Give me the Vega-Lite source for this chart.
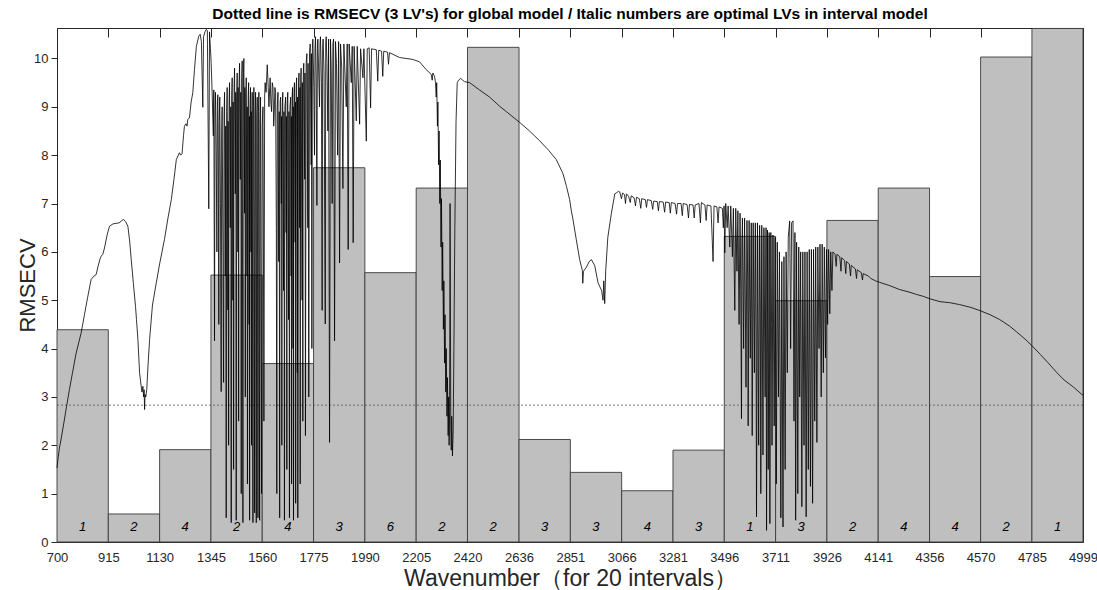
{
  "$schema": "https://vega.github.io/schema/vega-lite/v6.json",
  "width": 1026,
  "height": 514,
  "autosize": {"type": "none"},
  "padding": {"left": 57, "top": 28, "right": 14, "bottom": 48},
  "background": "white",
  "title": {"text": "Dotted line is RMSECV (3 LV's) for global model / Italic numbers are optimal LVs in interval model", "font": "Liberation Sans", "fontSize": 15.5, "fontWeight": "bold", "color": "#000000", "anchor": "middle", "offset": 5},
  "config": {
    "view": {"stroke": "#262626", "strokeWidth": 1},
    "axis": {"labelFont": "Liberation Sans", "labelFontSize": 13, "labelColor": "#262626", "titleFont": "Liberation Sans", "titleFontWeight": "normal", "titleColor": "#262626", "grid": false, "domain": false, "tickColor": "#262626"}
  },
  "datasets": {
    "intervals": [
      {"start": 700, "end": 915, "rmsecv": 4.39, "lv": 1},
      {"start": 915, "end": 1130, "rmsecv": 0.58, "lv": 2},
      {"start": 1130, "end": 1345, "rmsecv": 1.91, "lv": 4},
      {"start": 1345, "end": 1560, "rmsecv": 5.52, "lv": 2},
      {"start": 1560, "end": 1775, "rmsecv": 3.69, "lv": 4},
      {"start": 1775, "end": 1990, "rmsecv": 7.74, "lv": 3},
      {"start": 1990, "end": 2205, "rmsecv": 5.57, "lv": 6},
      {"start": 2205, "end": 2420, "rmsecv": 7.32, "lv": 2},
      {"start": 2420, "end": 2636, "rmsecv": 10.23, "lv": 2},
      {"start": 2636, "end": 2851, "rmsecv": 2.12, "lv": 3},
      {"start": 2851, "end": 3066, "rmsecv": 1.44, "lv": 3},
      {"start": 3066, "end": 3281, "rmsecv": 1.06, "lv": 4},
      {"start": 3281, "end": 3496, "rmsecv": 1.9, "lv": 3},
      {"start": 3496, "end": 3711, "rmsecv": 6.32, "lv": 1},
      {"start": 3711, "end": 3926, "rmsecv": 4.99, "lv": 3},
      {"start": 3926, "end": 4141, "rmsecv": 6.65, "lv": 2},
      {"start": 4141, "end": 4356, "rmsecv": 7.32, "lv": 4},
      {"start": 4356, "end": 4570, "rmsecv": 5.49, "lv": 4},
      {"start": 4570, "end": 4785, "rmsecv": 10.03, "lv": 2},
      {"start": 4785, "end": 4999, "rmsecv": 10.62, "lv": 1}
    ],
    "globalmodel": [{"rmsecv": 2.83}],
    "spectrum": [
      {"w":700,"v":1.53},{"w":705,"v":1.75},{"w":710,"v":1.94},{"w":718,"v":2.15},{"w":730,"v":2.5},{"w":740,"v":2.8},{"w":752,"v":3.15},{"w":765,"v":3.5},{"w":780,"v":3.9},{"w":801,"v":4.32},{"w":815,"v":4.7},{"w":828,"v":5.05},{"w":843,"v":5.43},{"w":855,"v":5.5},{"w":864,"v":5.53},{"w":872,"v":5.7},{"w":880,"v":5.85},{"w":885,"v":5.91},{"w":892,"v":5.95},{"w":899,"v":6.08},{"w":910,"v":6.35},{"w":920,"v":6.53},{"w":935,"v":6.58},{"w":948,"v":6.59},{"w":960,"v":6.6},{"w":970,"v":6.64},{"w":979,"v":6.67},{"w":988,"v":6.62},{"w":997,"v":6.53},{"w":1005,"v":6.2},{"w":1011,"v":5.84},{"w":1020,"v":5.35},{"w":1029,"v":4.87},{"w":1033,"v":4.6},{"w":1039,"v":4.19},{"w":1046,"v":3.5},{"w":1052,"v":3.25},{"w":1056,"v":3.1},{"w":1060,"v":3.22},{"w":1063,"v":3.0},{"w":1065,"v":3.15},{"w":1067,"v":2.74},{"w":1069,"v":3.05},{"w":1072,"v":3.0},{"w":1076,"v":3.15},{"w":1082,"v":3.7},{"w":1088,"v":4.19},{"w":1100,"v":4.9},{"w":1116,"v":5.36},{"w":1130,"v":5.75},{"w":1150,"v":6.25},{"w":1165,"v":6.7},{"w":1179,"v":7.08},{"w":1190,"v":7.5},{"w":1200,"v":7.91},{"w":1213,"v":8.05},{"w":1218,"v":8.0},{"w":1224,"v":8.03},{"w":1230,"v":8.4},{"w":1234,"v":8.6},{"w":1240,"v":8.65},{"w":1245,"v":8.6},{"w":1248,"v":8.74},{"w":1255,"v":8.77},{"w":1262,"v":9.1},{"w":1269,"v":9.29},{"w":1276,"v":9.77},{"w":1284,"v":10.25},{"w":1294,"v":10.46},{"w":1300,"v":10.5},{"w":1305,"v":10.35},{"w":1311,"v":8.99},{"w":1314,"v":10.45},{"w":1320,"v":10.55},{"w":1325,"v":10.6},{"w":1330,"v":10.58},{"w":1336,"v":6.89},{"w":1339,"v":10.55},{"w":1343,"v":10.2},{"w":1346,"v":9.9},{"w":1350,"v":9.3},
      {"w":1355,"v":8.4},{"w":1357,"v":9.35},{"w":1360,"v":4.16},{"w":1362,"v":8.9},{"w":1364,"v":9.3},{"w":1367,"v":8.1},{"w":1370,"v":6.0},{"w":1372,"v":9.1},{"w":1374,"v":9.25},{"w":1376,"v":7.8},{"w":1378,"v":4.5},{"w":1380,"v":8.7},{"w":1382,"v":9.2},{"w":1385,"v":7.0},{"w":1388,"v":3.11},{"w":1390,"v":8.5},{"w":1392,"v":9.0},{"w":1395,"v":6.2},{"w":1398,"v":3.3},{"w":1400,"v":8.8},{"w":1402,"v":9.3},{"w":1405,"v":5.5},{"w":1407,"v":8.6},{"w":1409,"v":0.5},{"w":1411,"v":8.9},{"w":1413,"v":9.4},{"w":1416,"v":4.8},{"w":1417,"v":8.7},{"w":1419,"v":2.0},{"w":1421,"v":9.1},{"w":1423,"v":9.5},{"w":1426,"v":6.5},{"w":1428,"v":9.0},{"w":1430,"v":0.4},{"w":1432,"v":9.2},{"w":1434,"v":9.6},{"w":1437,"v":5.0},{"w":1438,"v":9.1},{"w":1440,"v":1.5},{"w":1442,"v":9.4},{"w":1444,"v":9.8},{"w":1447,"v":7.2},{"w":1449,"v":9.3},{"w":1451,"v":0.45},{"w":1453,"v":9.2},{"w":1455,"v":9.7},{"w":1458,"v":6.0},{"w":1459,"v":9.4},{"w":1461,"v":2.5},{"w":1463,"v":9.5},{"w":1465,"v":9.9},{"w":1468,"v":7.5},{"w":1470,"v":9.3},{"w":1472,"v":1.0},{"w":1474,"v":9.6},{"w":1476,"v":9.95},{"w":1479,"v":0.4},{"w":1481,"v":9.7},{"w":1483,"v":10.0},{"w":1486,"v":6.8},{"w":1487,"v":9.4},{"w":1489,"v":3.0},{"w":1491,"v":9.2},{"w":1493,"v":9.6},{"w":1496,"v":5.5},{"w":1497,"v":9.0},{"w":1498,"v":1.2},{"w":1501,"v":9.2},{"w":1503,"v":9.5},{"w":1505,"v":4.5},{"w":1506,"v":8.8},{"w":1507,"v":0.45},{"w":1509,"v":9.0},{"w":1511,"v":9.4},{"w":1513,"v":6.0},{"w":1514,"v":8.9},{"w":1515,"v":2.0},{"w":1517,"v":9.0},{"w":1518,"v":9.3},{"w":1520,"v":3.5},{"w":1521,"v":0.4},{"w":1523,"v":9.0},{"w":1525,"v":9.4},{"w":1527,"v":5.0},{"w":1528,"v":0.6},{"w":1530,"v":8.9},{"w":1532,"v":9.3},{"w":1534,"v":2.5},{"w":1535,"v":0.4},{"w":1537,"v":8.8},{"w":1539,"v":9.2},{"w":1541,"v":4.0},{"w":1542,"v":0.5},{"w":1544,"v":8.9},{"w":1546,"v":9.3},{"w":1548,"v":3.0},{"w":1549,"v":0.45},{"w":1551,"v":8.7},{"w":1553,"v":9.2},{"w":1555,"v":5.0},{"w":1557,"v":1.0},{"w":1560,"v":8.6},{"w":1563,"v":9.0},{"w":1565,"v":6.0},{"w":1567,"v":2.5},{"w":1570,"v":9.2},{"w":1572,"v":9.5},{"w":1576,"v":9.3},{"w":1581,"v":9.87},{"w":1585,"v":9.4},{"w":1588,"v":9.0},{"w":1593,"v":9.6},{"w":1596,"v":9.1},{"w":1599,"v":8.9},{"w":1602,"v":9.5},{"w":1605,"v":9.4},{"w":1608,"v":8.6},{"w":1610,"v":8.8},{"w":1613,"v":9.4},{"w":1616,"v":9.3},{"w":1619,"v":6.5},{"w":1621,"v":1.0},{"w":1623,"v":9.0},{"w":1626,"v":9.3},{"w":1629,"v":5.8},{"w":1631,"v":8.9},{"w":1633,"v":0.5},{"w":1635,"v":9.1},{"w":1637,"v":9.2},{"w":1640,"v":7.0},{"w":1641,"v":8.8},{"w":1642,"v":2.0},{"w":1644,"v":9.0},{"w":1646,"v":9.3},{"w":1649,"v":5.2},{"w":1651,"v":8.9},{"w":1653,"v":0.45},{"w":1655,"v":9.0},{"w":1658,"v":9.2},{"w":1660,"v":6.4},{"w":1661,"v":8.8},{"w":1663,"v":1.5},{"w":1665,"v":9.1},{"w":1667,"v":9.3},{"w":1670,"v":4.6},{"w":1672,"v":8.9},{"w":1674,"v":0.5},{"w":1676,"v":9.0},{"w":1679,"v":9.2},{"w":1681,"v":5.5},{"w":1682,"v":8.8},{"w":1683,"v":1.2},{"w":1685,"v":9.2},{"w":1687,"v":9.4},{"w":1689,"v":4.0},{"w":1690,"v":9.0},{"w":1691,"v":0.45},{"w":1693,"v":9.3},{"w":1695,"v":9.5},{"w":1698,"v":6.2},{"w":1699,"v":9.1},{"w":1700,"v":0.8},{"w":1702,"v":9.4},{"w":1704,"v":9.6},{"w":1707,"v":3.5},{"w":1708,"v":9.2},{"w":1709,"v":0.5},{"w":1712,"v":9.5},{"w":1714,"v":9.7},{"w":1717,"v":6.5},{"w":1718,"v":9.4},{"w":1719,"v":1.2},{"w":1721,"v":9.6},{"w":1723,"v":9.8},{"w":1727,"v":5.0},{"w":1728,"v":9.5},{"w":1730,"v":2.5},{"w":1732,"v":9.7},{"w":1734,"v":9.9},{"w":1738,"v":7.5},{"w":1739,"v":9.7},{"w":1741,"v":2.2},{"w":1744,"v":9.9},{"w":1747,"v":10.1},{"w":1751,"v":6.5},{"w":1752,"v":9.9},{"w":1755,"v":3.0},{"w":1758,"v":10.1},{"w":1761,"v":10.3},{"w":1765,"v":7.8},{"w":1766,"v":10.1},{"w":1768,"v":4.0},{"w":1770,"v":10.2},{"w":1772,"v":10.4},{"w":1776,"v":9.4},{"w":1779,"v":8.0},{"w":1781,"v":10.2},{"w":1783,"v":10.45},{"w":1786,"v":9.6},{"w":1789,"v":6.96},{"w":1791,"v":10.2},{"w":1793,"v":10.4},{"w":1796,"v":9.8},{"w":1800,"v":9.0},{"w":1802,"v":10.3},{"w":1804,"v":10.45},{"w":1808,"v":9.5},{"w":1811,"v":4.79},{"w":1813,"v":10.2},{"w":1815,"v":10.4},{"w":1819,"v":9.7},{"w":1824,"v":4.51},{"w":1826,"v":10.3},{"w":1828,"v":10.45},{"w":1831,"v":9.9},{"w":1835,"v":8.5},{"w":1838,"v":10.4},{"w":1842,"v":2.06},{"w":1846,"v":10.4},{"w":1849,"v":9.8},{"w":1853,"v":7.0},{"w":1856,"v":10.3},{"w":1859,"v":10.4},{"w":1863,"v":4.16},{"w":1867,"v":10.35},{"w":1871,"v":9.9},{"w":1876,"v":8.0},{"w":1880,"v":10.35},{"w":1884,"v":5.77},{"w":1888,"v":10.3},{"w":1893,"v":9.8},{"w":1898,"v":7.31},{"w":1902,"v":10.3},{"w":1912,"v":9.0},{"w":1916,"v":10.3},{"w":1920,"v":6.05},{"w":1924,"v":10.3},{"w":1933,"v":9.5},{"w":1937,"v":10.25},{"w":1941,"v":6.19},{"w":1945,"v":10.25},{"w":1954,"v":8.71},{"w":1958,"v":10.25},{"w":1968,"v":8.64},{"w":1972,"v":10.2},{"w":1982,"v":9.6},{"w":1986,"v":10.2},{"w":1996,"v":8.29},{"w":2000,"v":10.2},
      {"w":2008,"v":10.22},{"w":2014,"v":8.98},{"w":2018,"v":10.2},{"w":2038,"v":10.18},{"w":2044,"v":9.53},{"w":2048,"v":10.17},{"w":2060,"v":10.15},{"w":2065,"v":9.63},{"w":2069,"v":10.15},{"w":2085,"v":10.13},{"w":2089,"v":9.88},{"w":2093,"v":10.12},{"w":2135,"v":10.02},{"w":2191,"v":9.98},{"w":2219,"v":9.93},{"w":2247,"v":9.77},{"w":2268,"v":9.67},{"w":2272,"v":9.55},{"w":2275,"v":9.7},{"w":2282,"v":9.63},{"w":2286,"v":9.5},
      {"w":2289,"v":9.2},{"w":2291,"v":9.5},{"w":2294,"v":8.6},{"w":2296,"v":9.1},{"w":2299,"v":7.8},{"w":2301,"v":8.5},{"w":2304,"v":7.0},{"w":2306,"v":7.9},{"w":2309,"v":6.1},{"w":2311,"v":7.1},{"w":2314,"v":5.2},{"w":2316,"v":6.2},{"w":2319,"v":4.4},{"w":2321,"v":5.4},{"w":2324,"v":3.7},{"w":2326,"v":4.7},{"w":2329,"v":3.1},{"w":2331,"v":4.0},{"w":2334,"v":2.6},{"w":2336,"v":3.4},{"w":2339,"v":2.2},{"w":2341,"v":3.0},{"w":2343,"v":2.0},{"w":2345,"v":2.7},{"w":2347,"v":7.0},{"w":2350,"v":2.4},{"w":2352,"v":1.9},{"w":2354,"v":2.6},{"w":2357,"v":1.78},{"w":2360,"v":2.3},{"w":2363,"v":4.0},{"w":2367,"v":6.5},{"w":2372,"v":8.7},{"w":2377,"v":9.5},{"w":2383,"v":9.55},{"w":2391,"v":9.59},{"w":2400,"v":9.55},{"w":2408,"v":9.52},{"w":2429,"v":9.5},{"w":2470,"v":9.35},{"w":2513,"v":9.2},{"w":2555,"v":9.01},{"w":2583,"v":8.9},{"w":2638,"v":8.68},{"w":2680,"v":8.5},{"w":2722,"v":8.3},{"w":2760,"v":8.1},{"w":2792,"v":7.91},{"w":2820,"v":7.62},{"w":2835,"v":7.35},{"w":2848,"v":7.08},{"w":2855,"v":6.85},{"w":2862,"v":6.67},{"w":2876,"v":6.25},{"w":2890,"v":5.84},{"w":2901,"v":5.62},{"w":2903,"v":5.35},{"w":2906,"v":5.6},{"w":2918,"v":5.68},{"w":2930,"v":5.8},{"w":2939,"v":5.84},{"w":2953,"v":5.72},{"w":2967,"v":5.36},{"w":2982,"v":5.2},{"w":2988,"v":5.0},{"w":2991,"v":5.4},{"w":2995,"v":4.93},{"w":2999,"v":5.6},{"w":3008,"v":6.3},{"w":3023,"v":6.8},{"w":3037,"v":7.2},{"w":3044,"v":7.22},{"w":3052,"v":7.25},{"w":3058,"v":7.24},
      {"w":3065,"v":7.1},{"w":3070,"v":7.22},{"w":3078,"v":7.18},{"w":3082,"v":7.0},{"w":3086,"v":7.2},{"w":3095,"v":7.15},{"w":3102,"v":7.02},{"w":3106,"v":7.16},{"w":3118,"v":7.12},{"w":3124,"v":6.95},{"w":3128,"v":7.13},{"w":3140,"v":7.1},{"w":3146,"v":6.9},{"w":3150,"v":7.1},{"w":3165,"v":7.08},{"w":3170,"v":6.92},{"w":3174,"v":7.08},{"w":3190,"v":7.06},{"w":3196,"v":6.88},{"w":3200,"v":7.05},{"w":3215,"v":7.04},{"w":3220,"v":6.85},{"w":3224,"v":7.04},{"w":3240,"v":7.03},{"w":3246,"v":6.82},{"w":3250,"v":7.03},{"w":3265,"v":7.02},{"w":3270,"v":6.8},{"w":3274,"v":7.02},{"w":3290,"v":7.0},{"w":3296,"v":6.78},{"w":3300,"v":7.0},{"w":3315,"v":7.0},{"w":3320,"v":6.75},{"w":3324,"v":7.0},{"w":3340,"v":6.98},{"w":3346,"v":6.7},{"w":3350,"v":6.98},{"w":3365,"v":6.97},{"w":3370,"v":6.7},{"w":3374,"v":6.97},{"w":3390,"v":7.0},{"w":3396,"v":6.6},{"w":3400,"v":7.02},{"w":3415,"v":6.97},{"w":3420,"v":6.65},{"w":3424,"v":6.97},{"w":3440,"v":6.95},{"w":3449,"v":5.8},{"w":3453,"v":6.95},{"w":3465,"v":6.93},{"w":3470,"v":6.6},{"w":3474,"v":6.93},{"w":3488,"v":6.9},{"w":3492,"v":6.5},{"w":3495,"v":6.95},
      {"w":3498,"v":5.98},{"w":3502,"v":7.0},{"w":3508,"v":6.5},{"w":3512,"v":6.95},{"w":3519,"v":6.1},{"w":3523,"v":6.95},{"w":3530,"v":5.9},{"w":3534,"v":6.9},{"w":3540,"v":4.79},{"w":3544,"v":6.9},{"w":3549,"v":5.6},{"w":3553,"v":6.85},{"w":3558,"v":4.5},{"w":3562,"v":6.8},{"w":3565,"v":5.2},{"w":3568,"v":2.55},{"w":3570,"v":6.2},{"w":3572,"v":6.7},{"w":3577,"v":4.0},{"w":3581,"v":6.7},{"w":3584,"v":5.0},{"w":3587,"v":3.2},{"w":3591,"v":6.65},{"w":3594,"v":5.4},{"w":3596,"v":2.4},{"w":3600,"v":6.65},{"w":3605,"v":3.8},{"w":3609,"v":6.6},{"w":3611,"v":4.6},{"w":3613,"v":2.2},{"w":3617,"v":6.6},{"w":3622,"v":3.5},{"w":3626,"v":6.6},{"w":3629,"v":4.4},{"w":3631,"v":0.52},{"w":3635,"v":6.6},{"w":3640,"v":2.0},{"w":3644,"v":6.55},{"w":3647,"v":4.8},{"w":3649,"v":1.0},{"w":3653,"v":6.55},{"w":3658,"v":1.8},{"w":3662,"v":6.5},{"w":3667,"v":3.0},{"w":3671,"v":6.5},{"w":3673,"v":0.24},{"w":3677,"v":6.45},{"w":3680,"v":1.5},{"w":3684,"v":6.4},{"w":3687,"v":0.38},{"w":3691,"v":6.4},{"w":3694,"v":4.5},{"w":3696,"v":2.0},{"w":3700,"v":6.35},{"w":3705,"v":2.4},{"w":3709,"v":6.3},{"w":3714,"v":1.2},{"w":3718,"v":6.2},{"w":3723,"v":3.0},{"w":3727,"v":6.0},{"w":3733,"v":0.5},{"w":3737,"v":5.8},{"w":3742,"v":0.31},{"w":3746,"v":5.9},{"w":3751,"v":1.5},{"w":3755,"v":6.0},{"w":3760,"v":3.5},{"w":3764,"v":6.3},{"w":3770,"v":6.64},{"w":3774,"v":4.0},{"w":3778,"v":6.6},{"w":3784,"v":6.64},{"w":3788,"v":2.5},{"w":3792,"v":6.4},{"w":3795,"v":0.45},{"w":3799,"v":6.2},{"w":3804,"v":1.0},{"w":3808,"v":6.1},{"w":3812,"v":3.0},{"w":3816,"v":6.0},{"w":3821,"v":0.73},{"w":3825,"v":6.0},{"w":3830,"v":2.0},{"w":3834,"v":6.0},{"w":3839,"v":0.52},{"w":3843,"v":6.0},{"w":3848,"v":1.5},{"w":3852,"v":6.05},{"w":3857,"v":1.15},{"w":3861,"v":6.05},{"w":3866,"v":0.8},{"w":3870,"v":6.05},{"w":3875,"v":2.5},{"w":3879,"v":6.1},{"w":3884,"v":2.06},{"w":3888,"v":6.1},{"w":3893,"v":4.0},{"w":3897,"v":6.16},{"w":3902,"v":3.0},{"w":3906,"v":6.16},{"w":3911,"v":3.5},{"w":3915,"v":6.1},{"w":3920,"v":3.81},{"w":3924,"v":6.05},{"w":3929,"v":4.5},{"w":3933,"v":6.05},{"w":3938,"v":4.72},{"w":3942,"v":6.0},{"w":3947,"v":5.2},{"w":3951,"v":6.0},
      {"w":3960,"v":5.95},{"w":3965,"v":5.7},{"w":3968,"v":5.95},{"w":3980,"v":5.9},{"w":3985,"v":5.6},{"w":3988,"v":5.88},{"w":4000,"v":5.82},{"w":4005,"v":5.55},{"w":4008,"v":5.8},{"w":4020,"v":5.75},{"w":4025,"v":5.5},{"w":4028,"v":5.72},{"w":4045,"v":5.65},{"w":4050,"v":5.45},{"w":4053,"v":5.63},{"w":4070,"v":5.57},{"w":4075,"v":5.42},{"w":4078,"v":5.55},{"w":4100,"v":5.5},{"w":4110,"v":5.45},{"w":4130,"v":5.4},{"w":4147,"v":5.37},{"w":4190,"v":5.3},{"w":4231,"v":5.22},{"w":4270,"v":5.17},{"w":4301,"v":5.12},{"w":4330,"v":5.08},{"w":4357,"v":5.03},{"w":4400,"v":4.97},{"w":4440,"v":4.95},{"w":4482,"v":4.91},{"w":4530,"v":4.85},{"w":4570,"v":4.78},{"w":4610,"v":4.7},{"w":4650,"v":4.6},{"w":4690,"v":4.47},{"w":4720,"v":4.35},{"w":4760,"v":4.18},{"w":4785,"v":4.06},{"w":4820,"v":3.88},{"w":4850,"v":3.72},{"w":4890,"v":3.5},{"w":4920,"v":3.35},{"w":4960,"v":3.2},{"w":4999,"v":3.03}
    ]
  },
  "layer": [
    {
      "data": {"name": "intervals"},
      "mark": {"type": "rect", "fill": "#bfbfbf", "stroke": "#3a3a3a", "strokeWidth": 0.9},
      "encoding": {
        "x": {"field": "start", "type": "quantitative", "scale": {"domain": [700, 4999], "nice": false, "zero": false},
              "axis": {"orient": "bottom", "values": [700, 915, 1130, 1345, 1560, 1775, 1990, 2205, 2420, 2636, 2851, 3066, 3281, 3496, 3711, 3926, 4141, 4356, 4570, 4785, 4999], "format": "d", "ticks": false, "tickSize": 0, "labelPadding": 9, "labelFlush": false, "labelOverlap": false, "title": "Wavenumber（for 20 intervals）", "titleFontSize": 23, "titleBaseline": "middle", "titleY": 36}},
        "x2": {"field": "end"},
        "y": {"field": "rmsecv", "type": "quantitative", "scale": {"domain": [0, 10.63], "nice": false, "zero": true},
              "axis": {"orient": "left", "values": [0, 1, 2, 3, 4, 5, 6, 7, 8, 9, 10], "tickSize": 6, "labelPadding": 3, "title": "RMSECV", "titleFontSize": 22, "titleAngle": 270, "titleBaseline": "middle", "titleX": -30, "titleY": 257}},
        "y2": {"datum": 0}
      }
    },
    {
      "data": {"name": "intervals"},
      "mark": {"type": "text", "font": "Liberation Sans", "fontStyle": "italic", "fontSize": 13, "color": "#000000", "dx": 25.6, "align": "center", "baseline": "middle"},
      "encoding": {
        "x": {"field": "start", "type": "quantitative", "axis": null},
        "y": {"datum": 0.3, "type": "quantitative"},
        "text": {"field": "lv", "type": "nominal"}
      }
    },
    {
      "data": {"name": "globalmodel"},
      "mark": {"type": "rule", "color": "#555555", "strokeWidth": 0.8, "strokeDash": [2, 2]},
      "encoding": {"y": {"field": "rmsecv", "type": "quantitative"}}
    },
    {
      "data": {"name": "spectrum"},
      "mark": {"type": "line", "color": "#000000", "strokeWidth": 0.8},
      "encoding": {
        "x": {"field": "w", "type": "quantitative",
              "axis": {"orient": "top", "values": [700, 915, 1130, 1345, 1560, 1775, 1990, 2205, 2420, 2636, 2851, 3066, 3281, 3496, 3711, 3926, 4141, 4356, 4570, 4785, 4999], "labels": false, "tickSize": -9, "title": null}},
        "y": {"field": "v", "type": "quantitative"},
        "order": {"field": "w", "type": "quantitative"}
      }
    }
  ]
}
